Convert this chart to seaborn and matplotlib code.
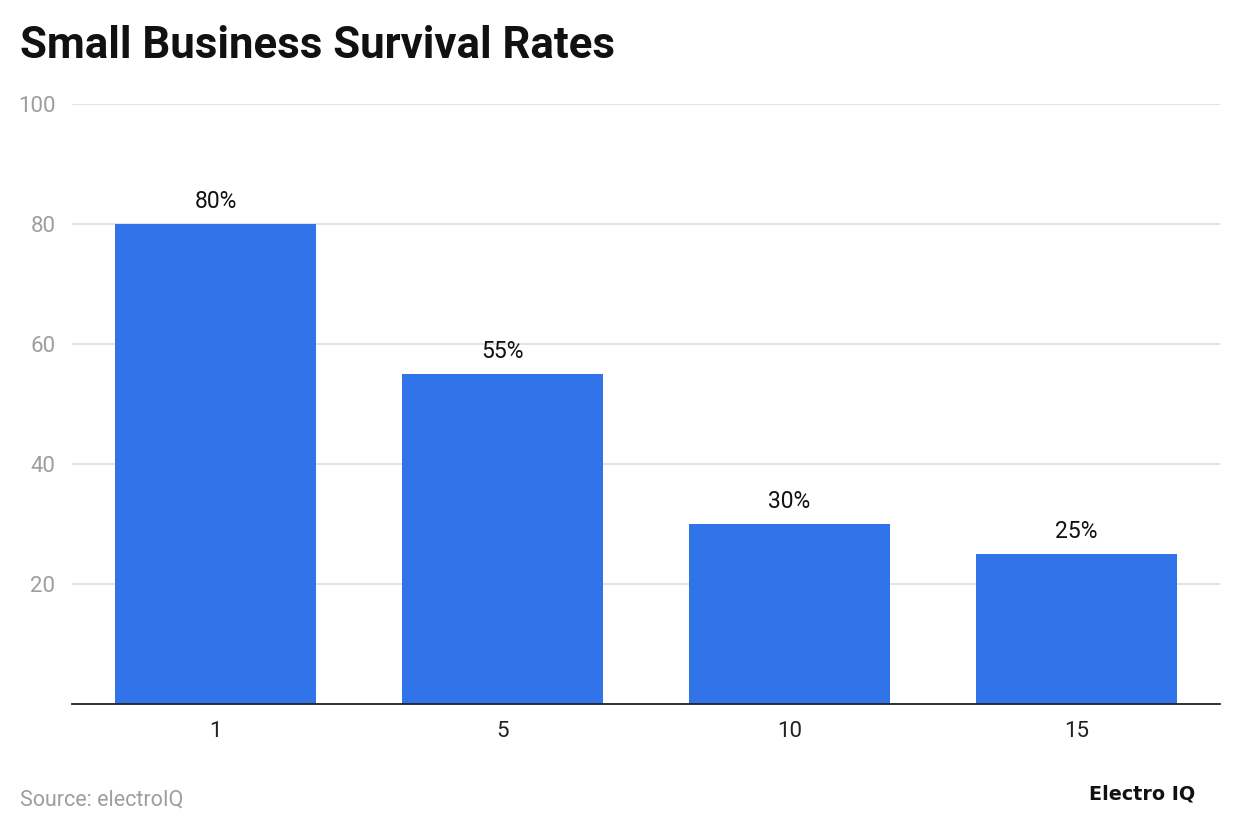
import matplotlib
matplotlib.use("Agg")
import matplotlib.pyplot as plt
import seaborn as sns
import pandas as pd

years = ["1", "5", "10", "15"]
survival = [80, 55, 30, 25]
value_labels = ["80%", "55%", "30%", "25%"]
y_ticks = [20, 40, 60, 80, 100]

sns.set_theme(style="white")
plt.rcParams['font.family'] = ['Roboto', 'DejaVu Sans']

df = pd.DataFrame({"year": years, "rate": survival})

fig = plt.figure(figsize=(12.4, 8.34), dpi=100)
ax = fig.add_axes([72/1240, 1-704/834, 1148/1240, 600/834])

sns.barplot(data=df, x="year", y="rate", color="#3174EA", saturation=1,
            width=0.697, linewidth=0, edgecolor="none", ax=ax, zorder=3)

ax.set_ylim(0, 100)
ax.set_xlim(-0.5, len(years) - 0.5)
ax.set_yticks(y_ticks)
ax.set_yticklabels([str(t) for t in y_ticks])
ax.yaxis.grid(True, color="#e0e0e0", linewidth=1.3, zorder=0)
ax.xaxis.grid(False)
for s in ["top", "right", "left"]:
    ax.spines[s].set_visible(False)
ax.spines["bottom"].set_color("#222222")
ax.spines["bottom"].set_linewidth(1.3)
ax.spines["bottom"].set_zorder(4)
ax.tick_params(axis="y", length=0, labelsize=16, labelcolor="#9e9e9e", pad=12)
ax.tick_params(axis="x", length=0, labelsize=16, labelcolor="#222222", pad=12)
ax.set_xlabel("")
ax.set_ylabel("")

for i, (v, lab) in enumerate(zip(survival, value_labels)):
    ax.annotate(lab, (i, v), xytext=(0, 8), textcoords="offset points",
                ha="center", va="bottom", fontsize=16.5, color="#111111")

fig.text(20/1240, 1-46/834, "Small Business Survival Rates", fontsize=31.5,
         fontweight="bold", color="#111111", va="center", ha="left")
fig.text(20/1240, 1-800/834, "Source: electroIQ", fontsize=15.5,
         color="#9e9e9e", va="center", ha="left")
fig.text(1195/1240, 1-794/834, "Electro IQ", fontsize=13.8,
         fontweight="bold", color="#111111", va="center", ha="right",
         family=["DejaVu Sans"])

fig.savefig("out.png", dpi=100)
